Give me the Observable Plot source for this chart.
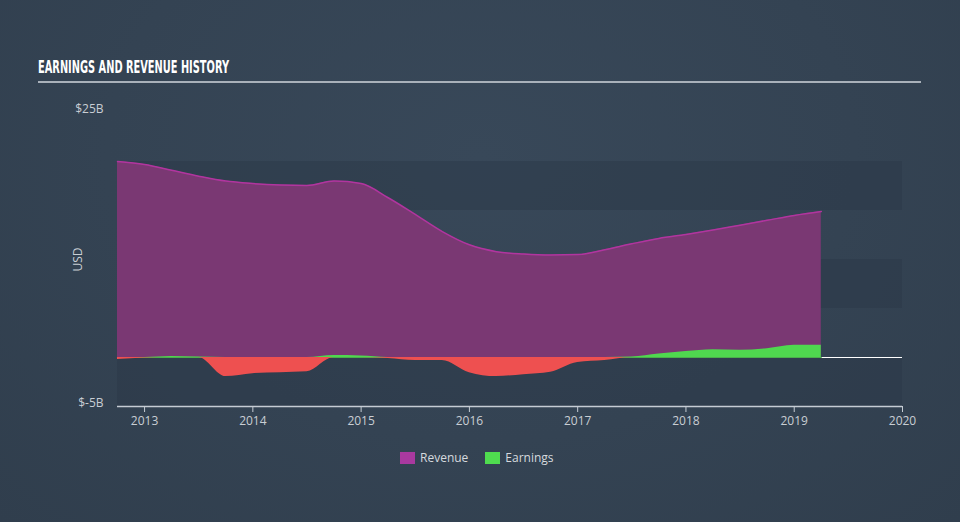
<!DOCTYPE html>
<html><head><meta charset="utf-8">
<script src="https://cdn.jsdelivr.net/npm/d3@7"></script>
<script src="https://cdn.jsdelivr.net/npm/@observablehq/plot@0.6"></script>
<style>
html,body{margin:0;padding:0;width:960px;height:522px;overflow:hidden;background:#344353;}
#wrap{position:relative;width:960px;height:522px;background:radial-gradient(ellipse at 50% 30%, #384859 0%, #344353 55%, #303e4d 100%);}
#title{position:absolute;left:38px;top:57px;font-family:"Liberation Sans Narrow","DejaVu Sans Condensed",sans-serif;font-weight:bold;font-size:17px;color:#fff;white-space:nowrap;transform-origin:0 0;}
#hr{position:absolute;left:38px;top:81px;width:883px;height:2px;background:#a9b1ba;}
#chart{position:absolute;left:0;top:0;}
#legend{position:absolute;top:449px;left:400px;font-family:"Open Sans",sans-serif;font-size:12px;color:#d6dade;display:flex;align-items:center;}
#legend .sw{display:inline-block;width:15px;height:12px;margin-right:5px;}
#legend .it{display:flex;align-items:center;margin-right:17px;}
</style></head>
<body><div id="wrap">
<div id="title">EARNINGS AND REVENUE HISTORY</div>
<div id="hr"></div>
<div id="chart"></div>
<div id="legend"></div>
</div>
<script>
const years = [2012.75,2013.0,2013.25,2013.5,2013.75,2014.0,2014.25,2014.5,2014.75,2015.0,2015.25,2015.5,2015.75,2016.0,2016.25,2016.5,2016.75,2017.0,2017.25,2017.5,2017.75,2018.0,2018.25,2018.5,2018.75,2019.0,2019.25];
const revenue = [20.0,19.7,19.1,18.5,18.0,17.75,17.6,17.55,18.0,17.75,16.3,14.6,12.85,11.5,10.8,10.55,10.45,10.5,11.0,11.6,12.15,12.55,13.0,13.5,14.0,14.5,14.9];
const earnings = [-0.2,-0.05,0.1,0.05,-1.95,-1.65,-1.55,-1.45,0.2,0.15,-0.1,-0.3,-0.3,-1.55,-1.95,-1.75,-1.5,-0.5,-0.3,0.05,0.35,0.6,0.8,0.75,0.9,1.25,1.25];
const xTicks = [2013,2014,2015,2016,2017,2018,2019,2020];
const yTicks = [-5,25];
const yTickLabels = ["$-5B","$25B"];
const bands = [[15,20],[5,10],[-5,0]];
const xDomain = [2012.75,2020];
const yDomain = [-5,25];
const seriesNames = ["Revenue","Earnings"];
const seriesColors = ["#a9399f","#4fdc4f"];

const rows = years.map((x,i)=>({x, rev: revenue[i], pos: Math.max(0, earnings[i]), neg: Math.min(0, earnings[i])}));
const bandRows = bands.map(([a,b])=>({y1:a,y2:b,x1:xDomain[0],x2:xDomain[1]}));

const chart = Plot.plot({
  width: 960, height: 522,
  marginLeft: 117, marginRight: 58, marginTop: 112, marginBottom: 116,
  style: {background: "transparent", fontFamily: "'Open Sans', sans-serif", fontSize: "12px", color: "#c9ced4", overflow: "visible"},
  x: {domain: xDomain, ticks: xTicks, tickFormat: d => String(d), tickSize: 6, tickPadding: 3, label: null},
  y: {domain: yDomain, ticks: yTicks, tickFormat: d => yTickLabels[yTicks.indexOf(d)], tickSize: 0, tickPadding: 14, label: null},
  marks: [
    Plot.rect(bandRows, {x1:"x1", x2:"x2", y1:"y1", y2:"y2", fill:"#2a3846", fillOpacity: 0.45}),
    Plot.areaY(rows, {x:"x", y1: 0, y2:"rev", fill:"#7a3873", curve:"monotone-x"}),
    Plot.lineY(rows, {x:"x", y:"rev", stroke:"#b1359f", strokeWidth:1.5, curve:"monotone-x"}),
    Plot.ruleY([0], {stroke:"#ffffff", strokeWidth:1.2}),
    Plot.lineY(rows, {x:"x", y: () => 0, stroke:"#4caf4c", strokeWidth:1.2}),
    Plot.areaY(rows, {x:"x", y1: 0, y2:"neg", fill:"#ee5050", curve:"monotone-x"}),
    Plot.areaY(rows, {x:"x", y1: 0, y2:"pos", fill:"#4fd84f", curve:"monotone-x"}),
    Plot.axisX({ticks: xTicks, tickFormat: d => String(d), tickSize: 6, tickPadding: 4, stroke:"#c5ccd4", fill:"#c9ced4", label: null}),
    Plot.ruleY([yDomain[0]], {stroke:"#c5ccd4", strokeWidth:1.5}),
    Plot.axisY({ticks: yTicks, tickFormat: d => yTickLabels[yTicks.indexOf(d)], tickSize: 0, tickPadding: 14, dy: -3, fill:"#c9ced4", label: null}),
    Plot.text(["USD"], {frameAnchor:"left", textAnchor:"middle", dx: -39, rotate: -90, fill:"#c9ced4", fontSize: 12})
  ]
});
document.getElementById("chart").appendChild(chart);

const leg = document.getElementById("legend");
seriesNames.forEach((n,i)=>{
  const it = document.createElement("div"); it.className="it";
  const sw = document.createElement("span"); sw.className="sw"; sw.style.background = seriesColors[i];
  const t = document.createElement("span"); t.textContent = n;
  it.appendChild(sw); it.appendChild(t); leg.appendChild(it);
});
const title = document.getElementById("title");
const w = title.getBoundingClientRect().width;
title.style.transform = `scaleX(${191 / w})`;
</script>
</body></html>
